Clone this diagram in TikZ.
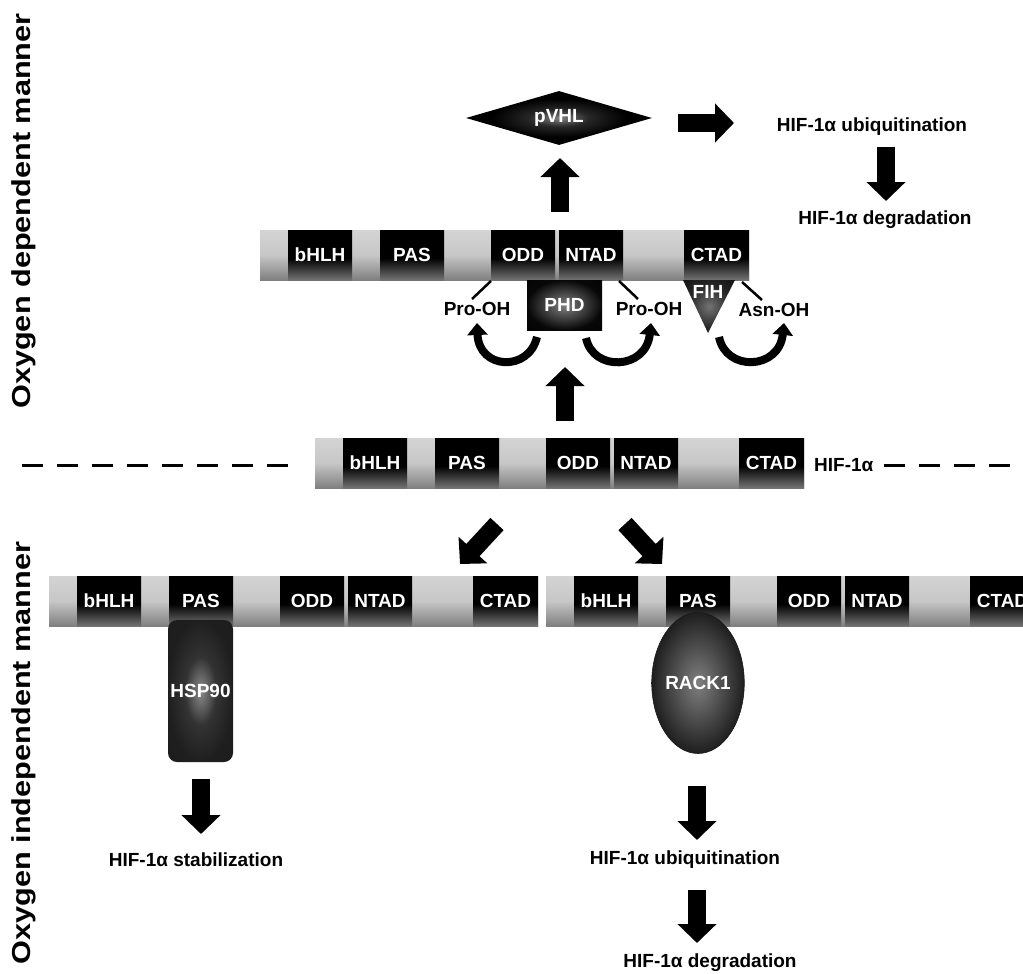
\documentclass[tikz,border=0pt]{standalone}
\usepackage{fontspec}
\setmainfont{Liberation Sans}
\usetikzlibrary{arrows.meta,shapes.geometric}
\newcommand\labfont{\fontsize{19pt}{21pt}\selectfont\bfseries}
\newcommand\sidefont{\fontsize{26pt}{28pt}\selectfont\bfseries}
\pgfdeclareverticalshading{barshade}{100bp}{color(0bp)=(black!50); color(25bp)=(black!50); color(50bp)=(black!22); color(75bp)=(black!17); color(100bp)=(black!17)}
\pgfdeclareverticalshading{domshade}{100bp}{color(0bp)=(black!55); color(25bp)=(black!55); color(47bp)=(black); color(75bp)=(black); color(100bp)=(black)}
\pgfdeclareradialshading{vhlshade}{\pgfpoint{0bp}{0bp}}{color(0bp)=(black!50); color(8bp)=(black!85); color(18bp)=(black); color(50bp)=(black)}
\pgfdeclareradialshading{phdshade}{\pgfpoint{0bp}{0bp}}{color(0bp)=(black!50); color(25bp)=(black!97); color(50bp)=(black)}
\pgfdeclareradialshading{hspshade}{\pgfpoint{0bp}{0bp}}{color(0bp)=(black!45); color(12bp)=(black!80); color(25bp)=(black!88); color(50bp)=(black!90)}
\pgfdeclareradialshading{rackshade}{\pgfpoint{0bp}{0bp}}{color(0bp)=(black!50); color(25bp)=(black!88); color(50bp)=(black!90)}
\pgfdeclareradialshading{fihshade}{\pgfpoint{0bp}{0bp}}{color(0bp)=(black!55); color(20bp)=(black!85); color(50bp)=(black)}
\tikzset{
  barbox/.style={anchor=north west, minimum width=489pt, minimum height=50pt, inner sep=0pt, outer sep=0pt, shade, shading=barshade},
  dombox/.style={anchor=north west, minimum width=64pt, minimum height=50pt, inner sep=0pt, outer sep=0pt, shade, shading=domshade, text=white, font=\labfont},
  hifbar/.pic={
    \node[barbox] (-bar) at (0,0) {};
    \node[dombox] (-bhlh) at (28,0) {bHLH};
    \node[dombox] (-pas) at (120,0) {PAS};
    \node[dombox] (-odd) at (231,0) {ODD};
    \node[dombox] (-ntad) at (299,0) {NTAD};
    \node[dombox, minimum width=65pt] (-ctad) at (424,0) {CTAD};
  },
  blab/.style={font=\labfont, inner sep=1pt, text=black},
  wlab/.style={font=\labfont, inner sep=0pt, text=white},
  sidelab/.style={font=\sidefont, rotate=90, inner sep=0pt},
  blockarrow/.style={line width=18pt, -{Triangle[width=38pt,length=19pt]}},
  curvearrow/.style={line width=8pt, -{Triangle[width=20pt,length=12pt]}},
  thinline/.style={line width=2.5pt},
  dashline/.style={line width=3pt, dash pattern=on 21pt off 14pt},
}
\begin{document}
\begin{tikzpicture}[x=1pt,y=-1pt]
\useasboundingbox (0,0) rectangle (1023,974);
\clip (0,0) rectangle (1023,974);
\fill[white] (0,0) rectangle (1023,974);

% side labels
\node[sidelab] (dep) at (24,211) {\scalebox{1.18}[1]{Oxygen dependent manner}};
\node[sidelab] (indep) at (24,753) {\scalebox{1.18}[1]{Oxygen independent manner}};

% bars
\pic (T) at (260,230) {hifbar};
\pic (M) at (315,438) {hifbar};
\pic (L) at (49,576) {hifbar};
\pic (R) at (546,576) {hifbar};

\node[blab, anchor=west] (hifM) at (813,465) {HIF-1α};

% dashed divider
\coordinate (dA) at (22,465);
\coordinate (dB) at (288,465);
\coordinate (dC) at (884,465);
\coordinate (dD) at (1010,465);
\draw[dashline] (dA) -- (dB);
\draw[dashline] (dC) -- (dD);

% top region
\node[diamond, aspect=3.44, minimum width=186pt, minimum height=54pt, inner sep=0pt, shade, shading=vhlshade, text=white, font=\labfont] (vhl) at (559,118) {pVHL};
\node[rectangle, minimum width=75pt, minimum height=50pt, inner sep=0pt, shade, shading=phdshade, text=white, font=\labfont] (phd) at (564.5,305) {PHD};
\shade[shading=fihshade] (683,280) -- (735,280) -- (708,333) -- cycle;
\node[wlab] (fih) at (708,292) {FIH};

\node[blab] (proL) at (477,309) {Pro-OH};
\node[blab] (proR) at (649,309) {Pro-OH};
\node[blab] (asn) at (774,310) {Asn-OH};

\coordinate (lA1) at (491,281); \coordinate (lA2) at (472,299);
\coordinate (lB1) at (619,281); \coordinate (lB2) at (638,299);
\coordinate (lC1) at (742,282); \coordinate (lC2) at (762,300);
\draw[thinline] (lA1) -- (lA2);
\draw[thinline] (lB1) -- (lB2);
\draw[thinline] (lC1) -- (lC2);

\coordinate (cl1) at (537,337); \coordinate (cl2) at (477,323);
\coordinate (cr1) at (586,338); \coordinate (cr2) at (651,323);
\coordinate (cf1) at (719,337); \coordinate (cf2) at (784,323);
\draw[curvearrow] (cl1) .. controls (529,372) and (479,370) .. (cl2);
\draw[curvearrow] (cr1) .. controls (593,372) and (646,370) .. (cr2);
\draw[curvearrow] (cf1) .. controls (726,372) and (779,370) .. (cf2);

\node[blab] (ubq1) at (872,127) {HIF-1α ubiquitination};
\node[blab] (deg1) at (885,220) {HIF-1α degradation};

% block arrows
\coordinate (a1s) at (560,212); \coordinate (a1e) at (560,158);
\coordinate (a2s) at (678,123); \coordinate (a2e) at (734,123);
\coordinate (a3s) at (886,147); \coordinate (a3e) at (886,201);
\coordinate (a4s) at (565,421); \coordinate (a4e) at (565,367);
\coordinate (a5s) at (497,524); \coordinate (a5e) at (460,564);
\coordinate (a6s) at (625,524); \coordinate (a6e) at (662,564);
\coordinate (a7s) at (201,779); \coordinate (a7e) at (201,834);
\coordinate (a8s) at (697,786); \coordinate (a8e) at (697,840);
\coordinate (a9s) at (697,890); \coordinate (a9e) at (697,943);
\draw[blockarrow] (a1s) -- (a1e);
\draw[blockarrow] (a2s) -- (a2e);
\draw[blockarrow] (a3s) -- (a3e);
\draw[blockarrow] (a4s) -- (a4e);
\draw[blockarrow] (a5s) -- (a5e);
\draw[blockarrow] (a6s) -- (a6e);
\draw[blockarrow] (a7s) -- (a7e);
\draw[blockarrow] (a8s) -- (a8e);
\draw[blockarrow] (a9s) -- (a9e);

% bottom region
\node[rectangle, rounded corners=9pt, minimum width=65pt, minimum height=142pt, inner sep=0pt, shade, shading=hspshade, text=white, font=\labfont] (hsp) at (200.5,691) {HSP90};
\node[ellipse, minimum width=82pt, minimum height=141pt, inner sep=0pt, shade, shading=rackshade, draw=black!90, line width=0.6pt, text=white, font=\labfont] (rack) at (698,683) {RACK1};

\node[blab] (stab) at (196,860) {HIF-1α stabilization};
\node[blab] (ubq2) at (685,860) {HIF-1α ubiquitination};
\node[blab] (deg2) at (710,963) {HIF-1α degradation};
\end{tikzpicture}
\end{document}
